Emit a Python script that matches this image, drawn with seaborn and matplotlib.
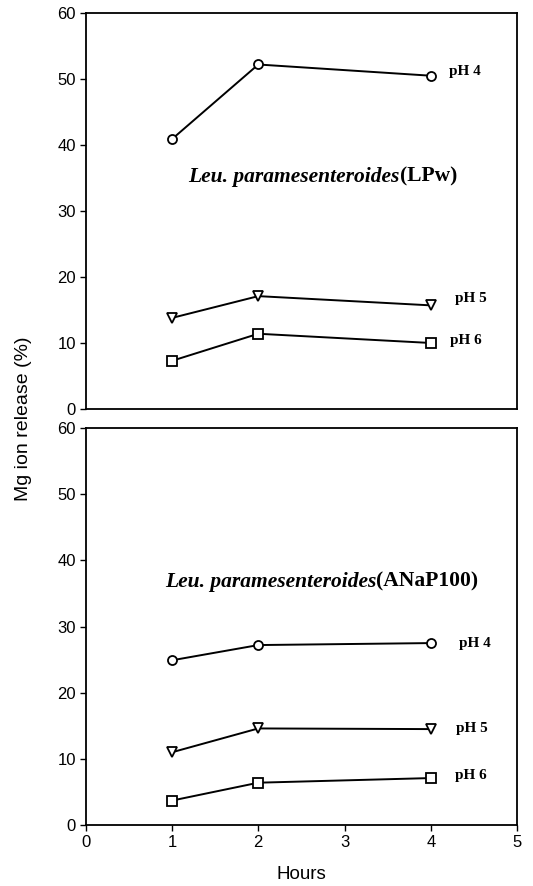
import matplotlib
matplotlib.use("Agg")
import matplotlib.pyplot as plt
import seaborn as sns
import pandas as pd

hours = [1, 2, 4]
series_names = ["pH 4", "pH 5", "pH 6"]
markers = ["o", "v", "s"]

lpw_ph4 = [40.9, 52.2, 50.5]
lpw_ph5 = [13.8, 17.1, 15.7]
lpw_ph6 = [7.3, 11.4, 10.0]

anap_ph4 = [24.9, 27.2, 27.5]
anap_ph5 = [11.0, 14.6, 14.5]
anap_ph6 = [3.7, 6.4, 7.1]

species = "Leu. paramesenteroides"
panel_titles = ["(LPw)", "(ANaP100)"]

sns.set_theme(style="white")
plt.rcParams["font.family"] = ["Liberation Sans", "DejaVu Sans"]
plt.rcParams["text.color"] = "black"

fig = plt.figure(figsize=(5.33, 8.86), dpi=100)
ax1 = fig.add_axes([0.161, 0.5384, 0.809, 0.4469])
ax2 = fig.add_axes([0.161, 0.0688, 0.809, 0.4481])

panels = [
    (ax1, [lpw_ph4, lpw_ph5, lpw_ph6], panel_titles[0],
     [(4.21, 51.2), (4.28, 16.8), (4.22, 10.4)], (3.64, 35.2)),
    (ax2, [anap_ph4, anap_ph5, anap_ph6], panel_titles[1],
     [(4.33, 27.4), (4.29, 14.6), (4.28, 7.5)], (3.37, 36.8)),
]

serif = ["Liberation Serif", "DejaVu Serif"]
for ax, vals, title, label_pos, title_pos in panels:
    for name, mk, v, (lx, ly) in zip(series_names, markers, vals, label_pos):
        df = pd.DataFrame({"Hours": hours, "val": v})
        sns.lineplot(data=df, x="Hours", y="val", ax=ax, color="black",
                     marker=mk, markersize=6.5, markerfacecolor="white",
                     markeredgecolor="black", markeredgewidth=1.3,
                     linewidth=1.4)
        ax.text(lx, ly, name, fontsize=11, fontweight="bold",
                family=serif, va="center", ha="left", color="black")
    ax.text(title_pos[0], title_pos[1], species, fontsize=15.5,
            fontweight="bold", fontstyle="italic", family=serif,
            ha="right", va="center", color="black")
    ax.text(title_pos[0], title_pos[1], title, fontsize=15.5,
            fontweight="bold", family=serif, ha="left", va="center",
            color="black")
    ax.set_xlim(0, 5)
    ax.set_ylim(0, 60)
    ax.set_yticks(range(0, 61, 10))
    ax.set_ylabel("")
    ax.set_xlabel("")
    for s in ax.spines.values():
        s.set_color("black")
        s.set_linewidth(1.3)
    ax.tick_params(axis="y", direction="out", length=4, width=1,
                   labelsize=12, colors="black", left=True, pad=3)
    ax.tick_params(axis="x", direction="out", length=4, width=1,
                   labelsize=12, colors="black", bottom=True, pad=3)

ax1.set_xticks([])
ax2.set_xticks(range(0, 6))
ax2.set_xlabel("Hours", fontsize=13.5, color="black", labelpad=12)

fig.text(0.045, 0.527, "Mg ion release (%)", rotation=90, ha="center",
         va="center", fontsize=14, color="black")

fig.savefig("out.png", dpi=100)
